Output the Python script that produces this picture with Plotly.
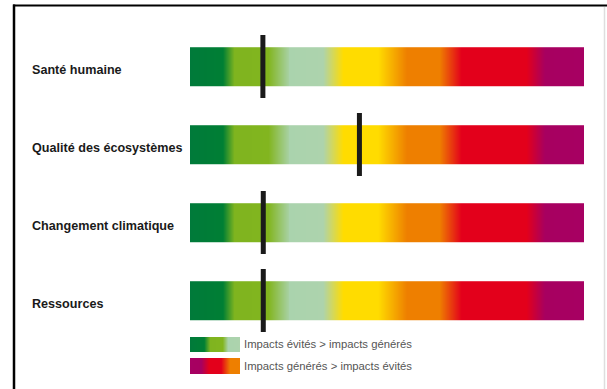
import numpy as np
import plotly.graph_objects as go

# Impact categories and the position of each score on the 0-100 scale
categories = ["Santé humaine", "Qualité des écosystèmes", "Changement climatique", "Ressources"]
scores = [18.5, 43.0, 18.6, 18.6]

# Colour ramp of the scale, from avoided impacts (green) to generated impacts (purple)
scale_stops = [0.0, 0.085, 0.114, 0.199, 0.254, 0.338, 0.389, 0.478, 0.55, 0.634, 0.689, 0.854, 0.90, 1.0]
scale_colors = ["#007a3a", "#007f34", "#7fb41f", "#82b51f", "#aad3ad", "#add3ad", "#ffdc00",
                "#ffdc00", "#ee7f00", "#ee7f00", "#e3001b", "#e3001b", "#a70060", "#a70062"]

# Legend swatches
legend_labels = ["Impacts évités > impacts générés", "Impacts générés > impacts évités"]
legend_green_stops = [0.0, 0.28, 0.40, 0.65, 0.76, 1.0]
legend_green_colors = ["#007a3a", "#007f34", "#7fb41f", "#82b51f", "#aad3ad", "#add3ad"]
legend_red_stops = [0.0, 0.22, 0.38, 0.62, 0.80, 1.0]
legend_red_colors = ["#a70062", "#a70060", "#e3001b", "#e3001b", "#ee7f00", "#ee7f00"]

W, H = 607, 389
N = 400
x_edges = np.linspace(0, 100, N + 1)
x_mid = (x_edges[:-1] + x_edges[1:]) / 2
half_h = 0.247

LABEL_FONT = "Liberation Sans, Arial, sans-serif"

main_scale = [[s, c] for s, c in zip(scale_stops, scale_colors)]

fig = go.Figure()

for i, cat in enumerate(categories):
    fig.add_trace(go.Heatmap(
        x=x_edges, y=[i - half_h, i + half_h], z=[x_mid],
        zmin=0, zmax=100, colorscale=main_scale, showscale=False,
        hoverinfo="skip",
    ))

fig.add_trace(go.Scatter(
    x=scores, y=list(range(len(categories))), mode="markers",
    marker=dict(symbol="line-ns", size=45, color="#1a1a1a",
                line=dict(width=5, color="#1a1a1a")),
    hoverinfo="skip", showlegend=False,
))

# Legend swatches on their own small axes (pixel-like y units)
sw_edges = np.linspace(0, 1, 101)
sw_mid = (sw_edges[:-1] + sw_edges[1:]) / 2
sw_rows = [(337, 352), (358, 374)]
for (y0, y1), (stops, cols) in zip(sw_rows, [(legend_green_stops, legend_green_colors),
                                             (legend_red_stops, legend_red_colors)]):
    fig.add_trace(go.Heatmap(
        x=sw_edges, y=[y0, y1], z=[sw_mid], zmin=0, zmax=1,
        colorscale=[[s, c] for s, c in zip(stops, cols)], showscale=False,
        xaxis="x2", yaxis="y2", hoverinfo="skip",
    ))

# Category labels
for i, cat in enumerate(categories):
    fig.add_annotation(
        x=30 / W, xref="paper", y=i, yref="y", text=f"<b>{cat}</b>",
        showarrow=False, xanchor="left", yanchor="middle", yshift=-3,
        font=dict(family=LABEL_FONT, size=12.6, color="#1a1a1a"),
    )

for j, lab in enumerate(legend_labels):
    fig.add_annotation(
        x=242 / W, xref="paper", y=1 - (344 if j == 0 else 366) / H, yref="paper",
        text=lab, showarrow=False, xanchor="left", yanchor="middle",
        font=dict(family=LABEL_FONT, size=11.3, color="#555555"),
    )

# Frame
fig.add_shape(type="line", xref="paper", yref="paper", x0=13 / W, x1=1, y0=1 - 5.5 / H, y1=1 - 5.5 / H,
              line=dict(color="#000000", width=2.2))
fig.add_shape(type="line", xref="paper", yref="paper", x0=14 / W, x1=14 / W, y0=1 - 4.5 / H, y1=0,
              line=dict(color="#000000", width=2.5))
fig.add_shape(type="line", xref="paper", yref="paper", x0=604.5 / W, x1=604.5 / W, y0=1 - 7 / H, y1=0,
              line=dict(color="#dedede", width=1.5))

y_top = -66.5 / 78
y_bot = y_top + H / 78

fig.update_layout(
    width=W, height=H, margin=dict(l=0, r=0, t=0, b=0),
    paper_bgcolor="white", plot_bgcolor="rgba(0,0,0,0)", showlegend=False,
    xaxis=dict(domain=[190 / W, 584 / W], range=[0, 100], visible=False, fixedrange=True),
    yaxis=dict(domain=[0, 1], range=[y_bot, y_top], visible=False, fixedrange=True),
    xaxis2=dict(domain=[190 / W, 240 / W], range=[0, 1], visible=False, anchor="y2"),
    yaxis2=dict(domain=[1 - 374 / H, 1 - 337 / H], range=[374, 337], visible=False, anchor="x2"),
)

fig.write_html("out.html")
